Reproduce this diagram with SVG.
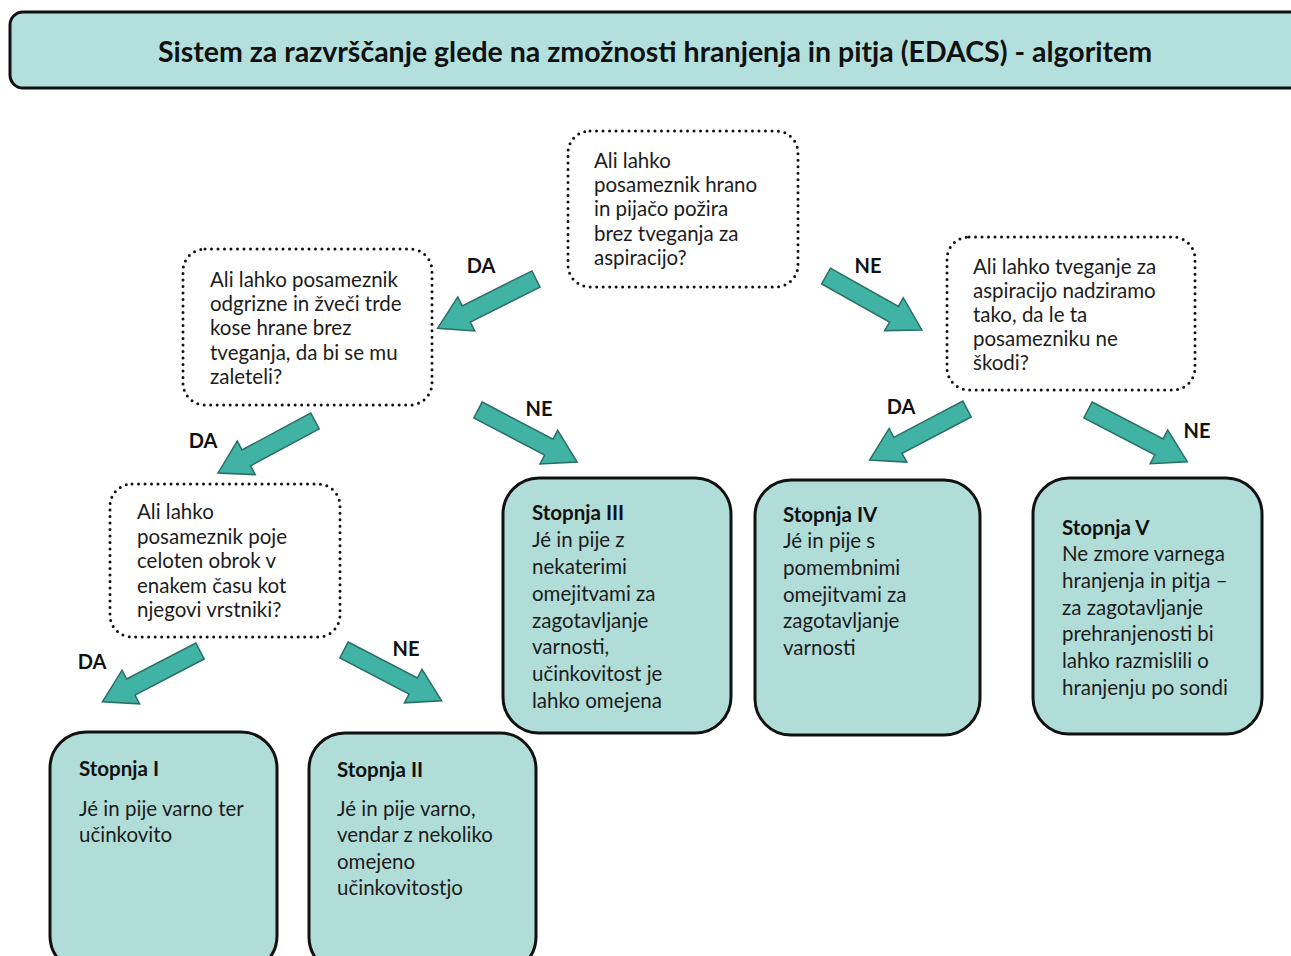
<svg xmlns="http://www.w3.org/2000/svg" width="1291" height="956" viewBox="0 0 1291 956">
<style>
.title{font-family:Lato,"Open Sans","Liberation Sans",sans-serif;font-weight:bold;font-size:28.5px;fill:#111}
.t{font-family:Lato,"Open Sans","Liberation Sans",sans-serif;font-size:20.5px;fill:#1c1c1c}
.b{font-weight:bold;fill:#111}
.lbl{font-family:Lato,"Open Sans","Liberation Sans",sans-serif;font-weight:bold;font-size:20px;fill:#111}
.q{fill:#fff;stroke:#111;stroke-width:3;stroke-dasharray:0 6.5;stroke-linecap:round}
.o{fill:#b1ddd8;stroke:#111;stroke-width:3}
.arr{fill:#40b3a4;stroke:#2a6e66;stroke-width:1.5;stroke-linejoin:miter}
</style>
<rect width="1291" height="956" fill="#fff"/>
<g id="title">
<rect x="10" y="12" width="1300" height="76" rx="13" fill="#b3e0dc" stroke="#111" stroke-width="3"/>
<text class="title" x="655" y="62" text-anchor="middle">Sistem za razvrščanje glede na zmožnosti hranjenja in pitja (EDACS) - algoritem</text>
</g>
<g id="q1">
<rect class="q" x="568" y="131" width="230" height="156" rx="22"/>
<text class="t"><tspan x="594" y="168">Ali lahko</tspan><tspan x="594" y="192">posameznik hrano</tspan><tspan x="594" y="216">in pijačo požira</tspan><tspan x="594" y="241">brez tveganja za</tspan><tspan x="594" y="265">aspiracijo?</tspan></text>
</g>
<g id="q2">
<rect class="q" x="183" y="249" width="249" height="156" rx="22"/>
<text class="t"><tspan x="210" y="287">Ali lahko posameznik</tspan><tspan x="210" y="311">odgrizne in žveči trde</tspan><tspan x="210" y="335">kose hrane brez</tspan><tspan x="210" y="360">tveganja, da bi se mu</tspan><tspan x="210" y="384">zaleteli?</tspan></text>
</g>
<g id="q3">
<rect class="q" x="947" y="237" width="248" height="153" rx="22"/>
<text class="t"><tspan x="973" y="274">Ali lahko tveganje za</tspan><tspan x="973" y="298">aspiracijo nadziramo</tspan><tspan x="973" y="322">tako, da le ta</tspan><tspan x="973" y="346">posamezniku ne</tspan><tspan x="973" y="370">škodi?</tspan></text>
</g>
<g id="q4">
<rect class="q" x="110" y="484" width="230" height="153" rx="22"/>
<text class="t"><tspan x="137" y="519">Ali lahko</tspan><tspan x="137" y="544">posameznik poje</tspan><tspan x="137" y="568">celoten obrok v</tspan><tspan x="137" y="593">enakem času kot</tspan><tspan x="137" y="617">njegovi vrstniki?</tspan></text>
</g>
<g id="s3">
<rect class="o" x="503" y="478" width="228" height="255" rx="36"/>
<text class="t"><tspan class="b" x="532" y="520">Stopnja III</tspan><tspan x="532" y="547">Jé in pije z</tspan><tspan x="532" y="574">nekaterimi</tspan><tspan x="532" y="601">omejitvami za</tspan><tspan x="532" y="628">zagotavljanje</tspan><tspan x="532" y="654">varnosti,</tspan><tspan x="532" y="681">učinkovitost je</tspan><tspan x="532" y="708">lahko omejena</tspan></text>
</g>
<g id="s4">
<rect class="o" x="755" y="480" width="225" height="255" rx="36"/>
<text class="t"><tspan class="b" x="783" y="522">Stopnja IV</tspan><tspan x="783" y="548">Jé in pije s</tspan><tspan x="783" y="575">pomembnimi</tspan><tspan x="783" y="602">omejitvami za</tspan><tspan x="783" y="628">zagotavljanje</tspan><tspan x="783" y="655">varnosti</tspan></text>
</g>
<g id="s5">
<rect class="o" x="1033" y="478" width="229" height="256" rx="36"/>
<text class="t"><tspan class="b" x="1062" y="535">Stopnja V</tspan><tspan x="1062" y="561">Ne zmore varnega</tspan><tspan x="1062" y="588">hranjenja in pitja –</tspan><tspan x="1062" y="615">za zagotavljanje</tspan><tspan x="1062" y="641">prehranjenosti bi</tspan><tspan x="1062" y="668">lahko razmislili o</tspan><tspan x="1062" y="695">hranjenju po sondi</tspan></text>
</g>
<g id="s1">
<rect class="o" x="50" y="732" width="227" height="240" rx="36"/>
<text class="t"><tspan class="b" x="79" y="776">Stopnja I</tspan><tspan x="79" y="816">Jé in pije varno ter</tspan><tspan x="79" y="842">učinkovito</tspan></text>
</g>
<g id="s2">
<rect class="o" x="309" y="733" width="227" height="240" rx="36"/>
<text class="t"><tspan class="b" x="337" y="777">Stopnja II</tspan><tspan x="337" y="816">Jé in pije varno,</tspan><tspan x="337" y="842">vendar z nekoliko</tspan><tspan x="337" y="869">omejeno</tspan><tspan x="337" y="895">učinkovitostjo</tspan></text>
</g>
<g id="connectors">
<path class="arr" transform="translate(536,279) rotate(153.4)" d="M0,-9 L78,-9 L78,-19 L110,0 L78,19 L78,9 L0,9 Z"/>
<path class="arr" transform="translate(826,276) rotate(29.4)" d="M0,-9 L78,-9 L78,-19 L110,0 L78,19 L78,9 L0,9 Z"/>
<path class="arr" transform="translate(315,421) rotate(151.8)" d="M0,-9 L78,-9 L78,-19 L110,0 L78,19 L78,9 L0,9 Z"/>
<path class="arr" transform="translate(478,410) rotate(27.7)" d="M0,-9 L80,-9 L80,-19 L112,0 L80,19 L80,9 L0,9 Z"/>
<path class="arr" transform="translate(967,409) rotate(152.3)" d="M0,-9 L78,-9 L78,-19 L110,0 L78,19 L78,9 L0,9 Z"/>
<path class="arr" transform="translate(1088,410) rotate(27.5)" d="M0,-9 L80,-9 L80,-19 L112,0 L80,19 L80,9 L0,9 Z"/>
<path class="arr" transform="translate(200,651) rotate(152.5)" d="M0,-9 L78,-9 L78,-19 L110,0 L78,19 L78,9 L0,9 Z"/>
<path class="arr" transform="translate(344,650) rotate(27.5)" d="M0,-9 L78,-9 L78,-19 L110,0 L78,19 L78,9 L0,9 Z"/>
<text class="lbl" x="481" y="273" text-anchor="middle">DA</text>
<text class="lbl" x="868" y="273" text-anchor="middle">NE</text>
<text class="lbl" x="203" y="448" text-anchor="middle">DA</text>
<text class="lbl" x="539" y="416" text-anchor="middle">NE</text>
<text class="lbl" x="901" y="414" text-anchor="middle">DA</text>
<text class="lbl" x="1197" y="438" text-anchor="middle">NE</text>
<text class="lbl" x="92" y="669" text-anchor="middle">DA</text>
<text class="lbl" x="406" y="656" text-anchor="middle">NE</text>
</g>
</svg>
